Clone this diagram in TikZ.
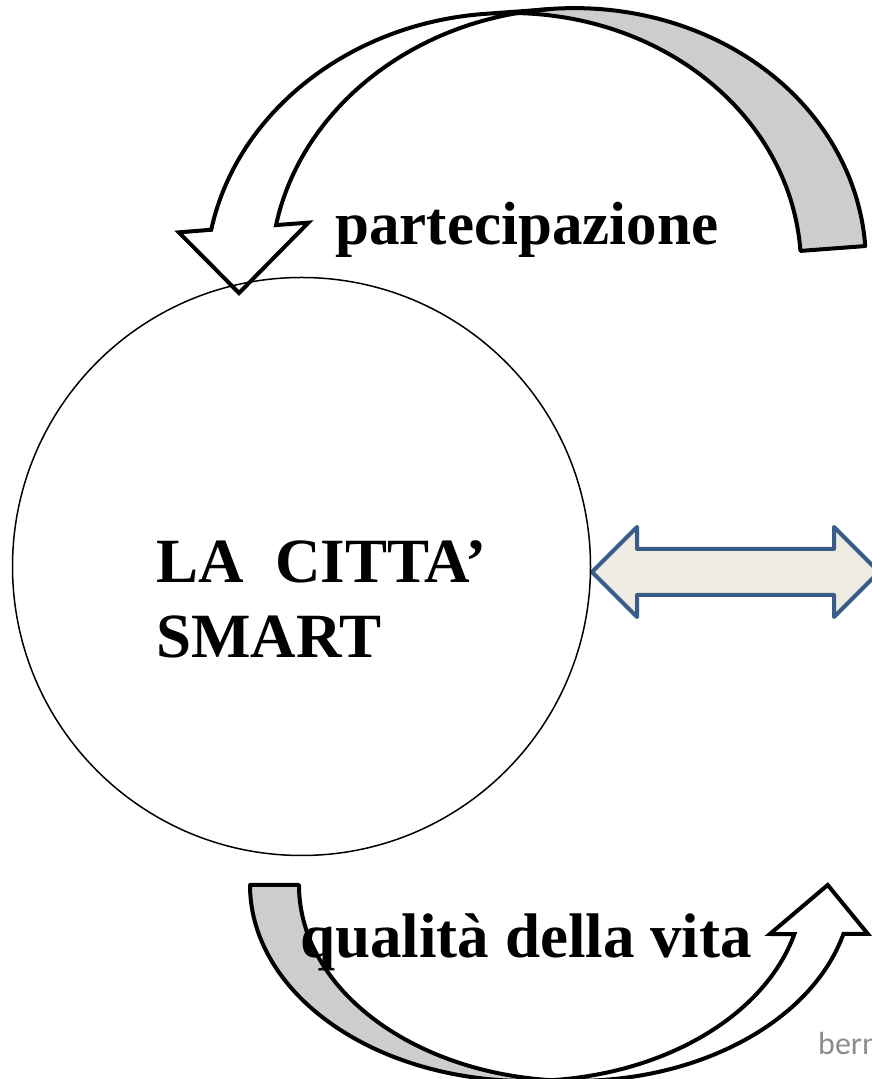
\documentclass[tikz,border=0pt]{standalone}
\usepackage{fontspec}
\setmainfont{Liberation Serif}
\newfontfamily\credfont{Carlito}
\definecolor{bandgray}{RGB}{205,205,205}
\definecolor{dblfill}{RGB}{238,236,225}
\definecolor{dblline}{RGB}{56,93,138}
\definecolor{credgray}{RGB}{140,140,140}
\tikzset{
  backband/.style={fill=bandgray, draw=black, line width=4pt, line join=round},
  frontband/.style={fill=white, draw=black, line width=4pt, line join=miter},
  dblarrow/.style={fill=dblfill, draw=dblline, line width=4pt, line join=round},
  bigtxt/.style={inner sep=0pt, anchor=base west, font=\bfseries\fontsize{63}{75}\selectfont},
  midtxt/.style={inner sep=0pt, anchor=base west, font=\bfseries\fontsize{61}{72}\selectfont},
  credtxt/.style={inner sep=0pt, anchor=base west, text=credgray, font=\credfont\fontsize{32}{36}\selectfont},
  ring/.style={circle, draw=black, line width=1.5pt, minimum size=578pt, inner sep=0pt}
}
\begin{document}
\begin{tikzpicture}[x=1pt, y=1pt]
\useasboundingbox[fill=white] (0,0) rectangle (871,1079);

% top curved arrow (curved down arrow, mirrored, slightly rotated)
\begin{scope}[shift={(174.2,781.1)}, rotate=4.29]
  \path[backband] (628,0)
    arc[start angle=0, end angle=83.73, x radius=297.75pt, y radius=260pt]
    arc[start angle=96.27, end angle=0, x radius=297.75pt, y radius=260pt]
    -- cycle;
  \path[frontband] (330.25,260)
    arc[start angle=90, end angle=165.48, x radius=297.75pt, y radius=260pt]
    -- (9.5,65) -- (65,0) -- (139.5,65) -- (107,65)
    arc[start angle=165.48, end angle=90, x radius=297.75pt, y radius=260pt]
    -- cycle;
\end{scope}

% bottom curved arrow (curved up arrow)
\path[backband] (250,194)
  arc[start angle=180, end angle=275.08, x radius=276.6pt, y radius=196pt]
  arc[start angle=264.92, end angle=180, x radius=276.6pt, y radius=196pt]
  -- cycle;
\path[frontband] (526.6,-2)
  arc[start angle=270, end angle=345.5, x radius=276.6pt, y radius=196pt]
  -- (769.9,145) -- (827.7,194) -- (867.9,145) -- (843.4,145)
  arc[start angle=345.5, end angle=270, x radius=276.6pt, y radius=196pt]
  -- cycle;

% double arrow
\path[dblarrow] (592,507) -- (637,552) -- (637,530) -- (834,530) -- (834,552)
  -- (879,507) -- (834,462) -- (834,484) -- (637,484) -- (637,462) -- cycle;

% circle
\node[ring] (circ) at (301.5,512.5) {};

% texts
\node[bigtxt] (city1) at (156,496) {LA\ \ CITTA’};
\node[bigtxt] (city2) at (156,421) {SMART};
\node[midtxt] (part) at (335,834) {partecipazione};
\node[bigtxt] (qual) at (300,121) {qualità della vita};
\node[credtxt] (cred) at (818,24) {bern};
\end{tikzpicture}
\end{document}
